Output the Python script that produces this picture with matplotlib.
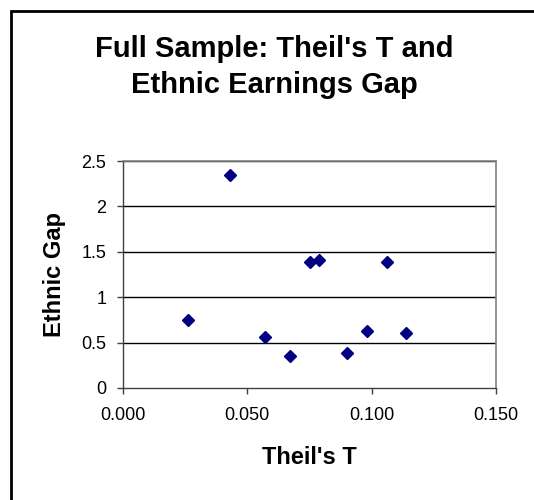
import matplotlib.pyplot as plt
from matplotlib.patches import Rectangle

# Theil's T vs ethnic earnings gap
theil_t = [0.026, 0.043, 0.057, 0.067, 0.075, 0.079, 0.090, 0.098, 0.106, 0.114]
ethnic_gap = [0.745, 2.35, 0.563, 0.357, 1.385, 1.405, 0.385, 0.625, 1.385, 0.61]

x_ticks = [0.0, 0.05, 0.10, 0.15]
x_ticklabels = ['0.000', '0.050', '0.100', '0.150']
y_ticks = [0, 0.5, 1, 1.5, 2, 2.5]
y_ticklabels = ['0', '0.5', '1', '1.5', '2', '2.5']
title_lines = ["Full Sample: Theil's T and", "Ethnic Earnings Gap"]

plt.rcParams['font.family'] = ['Liberation Sans', 'DejaVu Sans']

W, H = 534, 500
fig = plt.figure(figsize=(W / 100, H / 100), dpi=100)
ax = fig.add_axes([123 / W, 1 - 388 / H, (496 - 123) / W, (388 - 161) / H])

for y in y_ticks[1:]:
    ax.axhline(y, color='black', linewidth=1, zorder=1)

ax.plot(theil_t, ethnic_gap, linestyle='none', marker='D', markersize=6,
        color='#000080', zorder=3, clip_on=False)

ax.set_xlim(0, 0.15)
ax.set_ylim(0, 2.5)
ax.set_xticks(x_ticks)
ax.set_xticklabels(x_ticklabels, fontsize=13)
ax.set_yticks(y_ticks)
ax.set_yticklabels(y_ticklabels, fontsize=13)
ax.tick_params(direction='out', length=4, width=1, color='#404040')
ax.tick_params(axis='x', pad=10)
ax.tick_params(axis='y', pad=8)
for side in ['top', 'right']:
    ax.spines[side].set_color('#808080')
    ax.spines[side].set_linewidth(1.2)
for side in ['left', 'bottom']:
    ax.spines[side].set_color('#404040')
    ax.spines[side].set_linewidth(1)

ax.set_xlabel("Theil's T", fontsize=17, fontweight='bold')
ax.set_ylabel('Ethnic Gap', fontsize=17, fontweight='bold')
ax.xaxis.set_label_coords(0.5, -0.257)
ax.yaxis.set_label_coords(-0.152, 0.5)

fig.text(274 / W, 1 - 57 / H, title_lines[0], ha='center', va='baseline',
         fontsize=21, fontweight='bold')
fig.text(274 / W, 1 - 93 / H, title_lines[1], ha='center', va='baseline',
         fontsize=21, fontweight='bold')

# outer chart frame (left and top edges visible)
fig.patches.append(Rectangle((11 / W, -0.1), 1.2, 1 - 11 / H + 0.1,
                             transform=fig.transFigure, fill=False,
                             edgecolor='black', linewidth=2))

plt.savefig('out.png', dpi=100)
